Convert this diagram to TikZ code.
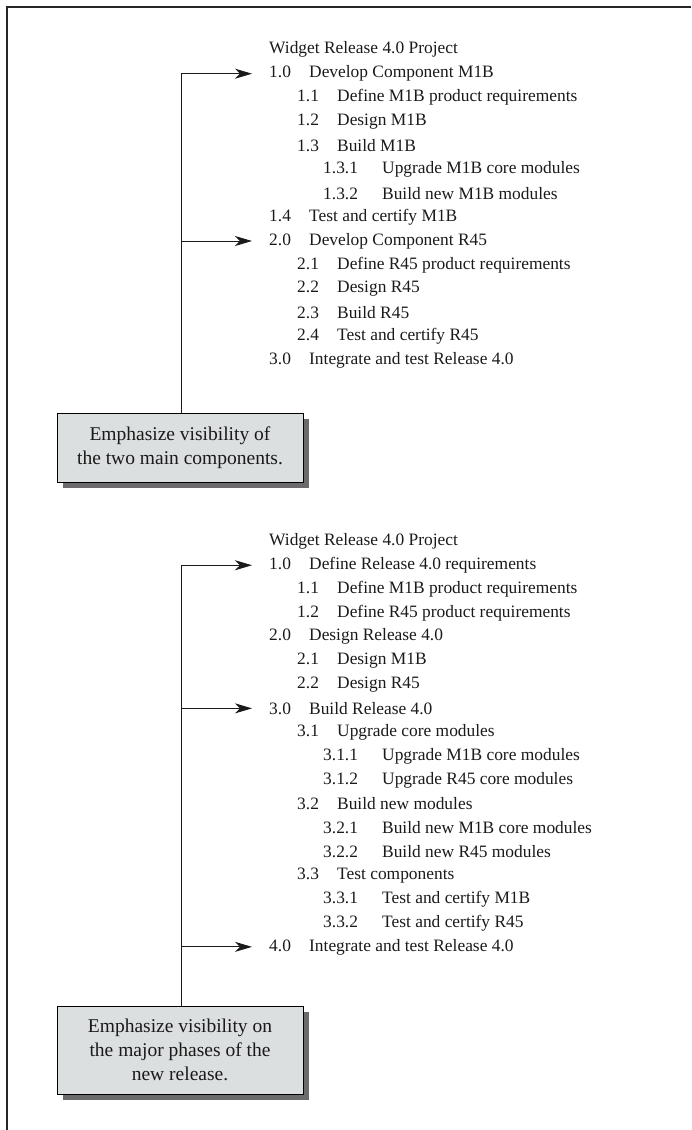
\documentclass[tikz,border=0pt]{standalone}
\usepackage{fontspec}
\setmainfont{Liberation Serif}
\usetikzlibrary{arrows.meta,shadows}
\definecolor{ink}{HTML}{1A1A1A}
\definecolor{notefill}{HTML}{DCDFE0}
\definecolor{noteshade}{HTML}{6B6B6E}
\newcommand\wbsfont{\fontsize{17.4}{23.9}\selectfont}
\newcommand\notefont{\fontsize{19.5}{24.2}\selectfont}
\newcommand\numcol[2]{\makebox[#1][l]{#2}}
\begin{document}
\begin{tikzpicture}[x=1pt,y=-1pt,
  item/.style={anchor=west,inner sep=0pt,text=ink,font=\wbsfont},
  lvlone/.style={item},
  lvltwo/.style={item},
  lvlthree/.style={item},
  note/.style={draw=black,line width=0.9pt,fill=notefill,text=ink,
    font=\notefont,align=center,inner sep=0pt,minimum width=246pt,
    drop shadow={fill=noteshade,opacity=1,shadow xshift=6pt,shadow yshift=-6pt}},
  link/.style={line width=1pt,draw=ink},
  pointer/.style={link,-{Stealth[length=17pt,width=10pt,inset=5pt]}},
  frame/.style={line width=1.8pt,draw=black!85}]
\useasboundingbox (0,0) rectangle (691,1130);

% outer frame: left and top rules
\draw[frame] (7,1130) -- (7,7) -- (691,7);

% ---------- first breakdown: by component ----------
\def\ya{49.8}\def\st{23.9}
\node[item] (a0) at (269,\ya) {Widget Release 4.0 Project};
\node[lvlone]   (a1)   at (269,\ya+1*\st)  {\numcol{40pt}{1.0}Develop Component M1B};
\node[lvltwo]   (a11)  at (297,\ya+2*\st)  {\numcol{40pt}{1.1}Define M1B product requirements};
\node[lvltwo]   (a12)  at (297,\ya+3*\st)  {\numcol{40pt}{1.2}Design M1B};
\node[lvltwo]   (a13)  at (297,\ya+4*\st)  {\numcol{40pt}{1.3}Build M1B};
\node[lvlthree] (a131) at (323,\ya+5*\st)  {\numcol{59pt}{1.3.1}Upgrade M1B core modules};
\node[lvlthree] (a132) at (323,\ya+6*\st)  {\numcol{59pt}{1.3.2}Build new M1B modules};
\node[lvlone]   (a14)  at (269,\ya+7*\st)  {\numcol{40pt}{1.4}Test and certify M1B};
\node[lvlone]   (a2)   at (269,\ya+8*\st)  {\numcol{40pt}{2.0}Develop Component R45};
\node[lvltwo]   (a21)  at (297,\ya+9*\st)  {\numcol{40pt}{2.1}Define R45 product requirements};
\node[lvltwo]   (a22)  at (297,\ya+10*\st) {\numcol{40pt}{2.2}Design R45};
\node[lvltwo]   (a23)  at (297,\ya+11*\st) {\numcol{40pt}{2.3}Build R45};
\node[lvltwo]   (a24)  at (297,\ya+12*\st) {\numcol{40pt}{2.4}Test and certify R45};
\node[lvlone]   (a3)   at (269,\ya+13*\st) {\numcol{40pt}{3.0}Integrate and test Release 4.0};

\node[note,minimum height=69pt] (notea) at (180,447.5)
  {Emphasize visibility of\\the two main components.};

\coordinate (ja) at (181,\ya+1*\st);
\draw[link] (notea.north -| ja) -- (ja);
\draw[pointer] (ja) -- ([xshift=-17pt]a1.west);
\draw[pointer] (ja |- a2.west) -- ([xshift=-17pt]a2.west);

% ---------- second breakdown: by phase ----------
\def\yb{541.4}\def\sb{23.85}
\node[item] (b0) at (269,\yb) {Widget Release 4.0 Project};
\node[lvlone]   (b1)   at (269,\yb+1*\sb)  {\numcol{40pt}{1.0}Define Release 4.0 requirements};
\node[lvltwo]   (b11)  at (297,\yb+2*\sb)  {\numcol{40pt}{1.1}Define M1B product requirements};
\node[lvltwo]   (b12)  at (297,\yb+3*\sb)  {\numcol{40pt}{1.2}Define R45 product requirements};
\node[lvlone]   (b2)   at (269,\yb+4*\sb)  {\numcol{40pt}{2.0}Design Release 4.0};
\node[lvltwo]   (b21)  at (297,\yb+5*\sb)  {\numcol{40pt}{2.1}Design M1B};
\node[lvltwo]   (b22)  at (297,\yb+6*\sb)  {\numcol{40pt}{2.2}Design R45};
\node[lvlone]   (b3)   at (269,\yb+7*\sb)  {\numcol{40pt}{3.0}Build Release 4.0};
\node[lvltwo]   (b31)  at (297,\yb+8*\sb)  {\numcol{40pt}{3.1}Upgrade core modules};
\node[lvlthree] (b311) at (323,\yb+9*\sb)  {\numcol{59pt}{3.1.1}Upgrade M1B core modules};
\node[lvlthree] (b312) at (323,\yb+10*\sb) {\numcol{59pt}{3.1.2}Upgrade R45 core modules};
\node[lvltwo]   (b32)  at (297,\yb+11*\sb) {\numcol{40pt}{3.2}Build new modules};
\node[lvlthree] (b321) at (323,\yb+12*\sb) {\numcol{59pt}{3.2.1}Build new M1B core modules};
\node[lvlthree] (b322) at (323,\yb+13*\sb) {\numcol{59pt}{3.2.2}Build new R45 modules};
\node[lvltwo]   (b33)  at (297,\yb+14*\sb) {\numcol{40pt}{3.3}Test components};
\node[lvlthree] (b331) at (323,\yb+15*\sb) {\numcol{59pt}{3.3.1}Test and certify M1B};
\node[lvlthree] (b332) at (323,\yb+16*\sb) {\numcol{59pt}{3.3.2}Test and certify R45};
\node[lvlone]   (b4)   at (269,\yb+17*\sb) {\numcol{40pt}{4.0}Integrate and test Release 4.0};

\node[note,minimum height=88pt] (noteb) at (180,1050)
  {Emphasize visibility on\\the major phases of the\\new release.};

\coordinate (jb) at (181,\yb+1*\sb);
\draw[link] (noteb.north -| jb) -- (jb);
\draw[pointer] (jb) -- ([xshift=-17pt]b1.west);
\draw[pointer] (jb |- b3.west) -- ([xshift=-17pt]b3.west);
\draw[pointer] (jb |- b4.west) -- ([xshift=-17pt]b4.west);
\end{tikzpicture}
\end{document}
